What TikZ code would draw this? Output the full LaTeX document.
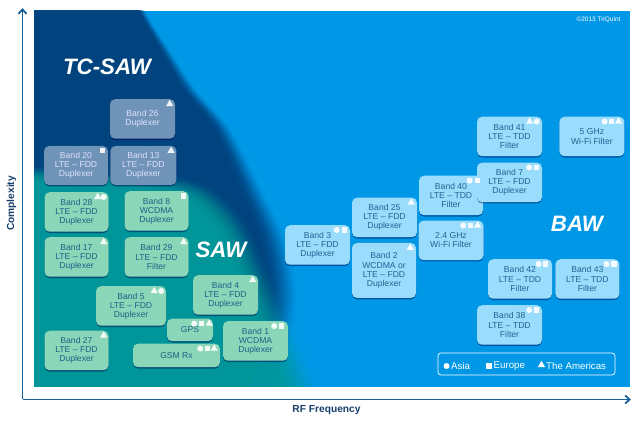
\documentclass[tikz,border=0pt]{standalone}
\usepackage{fontspec}
\setmainfont{Liberation Sans}
\usetikzlibrary{positioning, arrows.meta, shapes.geometric, shadows}
\definecolor{skyb}{HTML}{0098E6}
\definecolor{navyb}{HTML}{03437F}
\definecolor{tealb}{HTML}{009C9F}
\definecolor{axisb}{HTML}{1B6199}
\tikzset{
  bandbox/.style = {rounded corners=5pt, minimum width=64pt, minimum height=39.5pt, inner sep=0pt, align=center,
                    font=\fontsize{8.6}{9.2}\selectfont,
                    drop shadow={shadow xshift=0pt, shadow yshift=-1.3pt, opacity=.45, fill=black!70!blue}},
  sawbox/.style  = {bandbox, fill=sawfill, text=sawtext},
  tcbox/.style   = {bandbox, fill=tcfill, text=white!88!blue},
  bawbox/.style  = {bandbox, fill=bawfill, text=bawtext},
  mcirc/.style   = {circle, fill=white, fill opacity=.9, minimum size=6pt, inner sep=0pt},
  msqr/.style    = {rectangle, fill=white, fill opacity=.9, minimum size=5.4pt, inner sep=0pt},
  mtri/.style    = {regular polygon, regular polygon sides=3, fill=white, fill opacity=.9, minimum size=8.4pt, inner sep=0pt},
  tech/.style    = {font=\fontsize{22.3}{24}\selectfont\bfseries\itshape, text=white},
  axislabel/.style = {font=\fontsize{10.2}{12}\selectfont\bfseries, text=axislab},
  axisline/.style  = {draw=axisb, line width=1.7pt, -{Straight Barb[length=4.5pt, width=8pt, line width=1.8pt]}}
}
\definecolor{sawfill}{HTML}{8AD6B8}
\definecolor{sawtext}{HTML}{1A6488}
\definecolor{tcfill}{HTML}{6F94B8}
\definecolor{bawfill}{HTML}{9ADCFB}
\definecolor{bawtext}{HTML}{1F6496}
\definecolor{axislab}{HTML}{173F6B}
\begin{document}
\begin{tikzpicture}[x=1pt, y=-1pt]
  \useasboundingbox (0,0) rectangle (640,443);
  \begin{scope}
    \clip (34,11) rectangle (630,387);
    \fill[skyb] (34,11) rectangle (630,387);
    % soft edges: stacked see-through layers, wider further down
    \foreach \d [evaluate=\d as \op using {min(.14,.006+.006*(15-\d))}] in {15,14,...,-30}
      \fill[navyb, opacity=\op, xshift=.2*\d pt, xslant=-\d/320] (-40,420) -- (-40,-20) -- plot[smooth] coordinates {(134,-20) (142,11) (165,50) (190,90) (223,130) (255,197) (270,230) (279,263) (282,297) (276,330) (260,370) (236,420)} -- cycle;
    \foreach \d [evaluate=\d as \op using {min(.14,.006+.006*(14-\d))}] in {14,13,...,-30}
      \fill[tealb, opacity=\op, xshift=.4*\d pt, yshift=.5*\d pt, xslant=-\d/500] (-40,420) -- plot[smooth] coordinates {(-40,172) (34,172) (80,178) (150,180) (200,192) (235,227) (258,277) (279,330) (312,420)} -- cycle;
  \end{scope}

  \node[tech] (tcsaw) at (107,67) {TC-SAW};
  \node[tech] (saw)   at (221,250) {SAW};
  \node[tech] (baw)   at (577,224) {BAW};

  \node[font=\fontsize{6.5}{8}\selectfont, text=white, anchor=east] (copy) at (624,20) {©2013 TriQuint};

  % TC-SAW
  \node[tcbox, minimum width=65pt] (b26) at (142.5,119) {Band 26\\Duplexer};
  \node[tcbox, minimum height=39pt] (b20) at (76,165.5) {Band 20\\LTE – FDD\\Duplexer};
  \node[tcbox, minimum height=39pt, minimum width=66pt, right=2pt of b20] (b13) {Band 13\\LTE – FDD\\Duplexer};

  % SAW
  \node[sawbox] (b28) at (76.5,212) {Band 28\\LTE – FDD\\Duplexer};
  \node[sawbox] (b8)  at (156.5,211) {Band 8\\WCDMA\\Duplexer};
  \node[sawbox] (b17) at (76.5,257) {Band 17\\LTE – FDD\\Duplexer};
  \node[sawbox] (b29) at (156.5,257) {Band 29\\LTE – FDD\\Filter};
  \node[sawbox, minimum width=70pt] (b5) at (131,306) {Band 5\\LTE – FDD\\Duplexer};
  \node[sawbox, minimum width=65pt] (b4) at (225.5,295) {Band 4\\LTE – FDD\\Duplexer};
  \node[sawbox, minimum width=46pt, minimum height=22.5pt] (gps) at (190,330) {GPS};
  \node[sawbox, minimum width=65pt] (b1) at (255.5,341) {Band 1\\WCDMA\\Duplexer};
  \node[sawbox] (b27) at (76.5,350.5) {Band 27\\LTE – FDD\\Duplexer};
  \node[sawbox, minimum width=87pt, minimum height=23.5pt] (gsm) at (176.5,355.5) {GSM Rx};

  % BAW
  \node[bawbox, minimum width=65pt] (b3)  at (317.5,245) {Band 3\\LTE – FDD\\Duplexer};
  \node[bawbox, minimum width=65pt] (b25) at (384.5,217.5) {Band 25\\LTE – FDD\\Duplexer};
  \node[bawbox, minimum height=55pt] (b2) at (384,270.5) {Band 2\\WCDMA or\\LTE – FDD\\Duplexer};
  \node[bawbox] (b40) at (451,195.5) {Band 40\\LTE – TDD\\Filter};
  \node[bawbox, minimum width=65pt, below=5pt of b40] (wifi24) {2.4 GHz\\Wi-Fi Filter};
  \node[bawbox, minimum width=65pt] (b41) at (509.5,136.5) {Band 41\\LTE – TDD\\Filter};
  \node[bawbox, minimum width=65pt, below=6pt of b41] (b7) {Band 7\\LTE – FDD\\Duplexer};
  \node[bawbox, minimum width=65pt, right=17pt of b41] (wifi5) {5 GHz\\Wi-Fi Filter};
  \node[bawbox] (b42) at (520,279) {Band 42\\LTE – TDD\\Filter};
  \node[bawbox, right=3pt of b42] (b43) {Band 43\\LTE – TDD\\Filter};
  \node[bawbox, minimum width=65pt] (b38) at (509.5,325) {Band 38\\LTE – TDD\\Filter};

  % region marks
  \foreach \nm/\sh/\dx in {b26/mtri/5.5, b20/msqr/6, b13/mtri/5.5, b28/mcirc/5, b28/mtri/11, b8/msqr/5,
      b17/mtri/5, b29/mtri/5, b5/mcirc/5, b5/mtri/12, b4/mtri/5.5, gps/mtri/4, gps/msqr/11.5, gps/mcirc/19,
      b1/msqr/6.5, b1/mcirc/14, b27/mtri/5, gsm/mtri/6, gsm/msqr/13, gsm/mcirc/20,
      b3/msqr/6, b3/mcirc/13.5, b25/mtri/6, b2/mtri/6, b40/msqr/6, b40/mcirc/13.5,
      wifi24/mtri/6, wifi24/msqr/13.5, wifi24/mcirc/20.5, b41/mcirc/5.5, b41/mtri/12.5, b7/msqr/5.5, b7/mcirc/13,
      wifi5/mtri/6, wifi5/msqr/13, wifi5/mcirc/20, b42/msqr/6.5, b42/mcirc/13.5, b43/msqr/5.5, b43/mcirc/13,
      b38/msqr/5.5, b38/mcirc/13}
    \node[\sh] (m\nm\sh) at ([xshift=-\dx pt, yshift=-5pt]\nm.north east) {};

  % legend
  \node[draw=white, line width=.7pt, rounded corners=3pt, minimum width=177pt, minimum height=22pt, inner sep=0pt] (legend) at (526.5,364) {};
  \node[mcirc, fill opacity=1] (lasia) at (446.5,366) {};
  \node[msqr, fill opacity=1] (leur) at (489,366) {};
  \node[mtri, fill opacity=1] (lame) at (541.5,365) {};
  \foreach \nm/\lbl in {lasia/Asia, leur/Europe, lame/The Americas}
    \node[anchor=west, inner sep=0pt, text=white, font=\fontsize{9.7}{11}\selectfont, xshift=4.5pt, yshift=0pt] (t\nm) at (\nm.center |- 0,366) {\lbl};

  % axes
  \coordinate (origin) at (22.5,399.5);
  \coordinate (ytop) at (22.5,8);
  \coordinate (xend) at (631,399.5);
  \draw[axisline] (origin) -- (ytop);
  \draw[axisline] (origin) -- (xend);
  \node[axislabel, rotate=90] (ylab) at (11.5,203.5) {Complexity};
  \node[axislabel] (xlab) at (326.5,410) {RF Frequency};
\end{tikzpicture}
\end{document}
